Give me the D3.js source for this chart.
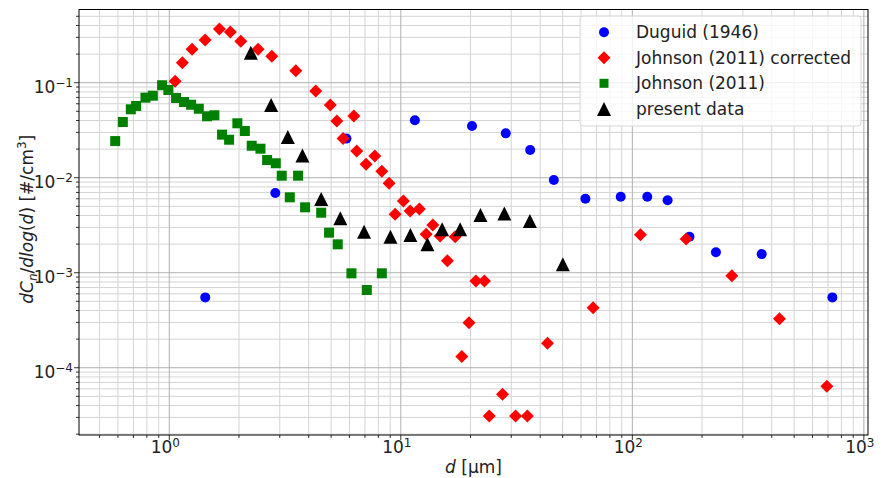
<!DOCTYPE html>
<html><head><meta charset="utf-8">
<script src="https://cdn.jsdelivr.net/npm/d3@7"></script>
<style>body{margin:0;background:#fff} svg{display:block;font-family:"DejaVu Sans",sans-serif}</style>
</head><body><svg id="c" width="885" height="478"></svg>
<script>
// ---- data ----
const duguidD = [1.43, 2.87, 5.82, 11.5, 20.3, 28.4, 36.2, 45.8, 62.7, 89.1, 116, 142, 176.5, 229.6, 362, 731];
const duguidC = [5.5e-4, 6.9e-3, 0.0258, 0.0402, 0.035, 0.0293, 0.0196, 0.00946, 0.0060, 0.0063, 0.0063, 0.00578, 0.00239, 0.00164, 0.00157, 5.5e-4];

const johnsonCorrD = [1.06,1.139,1.254,1.428,1.647,1.836,2.037,2.419,2.772,3.52,4.29,4.96,5.29,6.27,5.63,6.45,7.08,7.72,8.28,8.9,10.26,9.45,10.97,12.03,13.75,12.86,14.78,17.17,15.89,21.1,22.97,19.7,18.34,27.5,24.1,31.3,35.2,43.0,67.7,108.4,170.7,269,432,692];
const johnsonCorrC = [0.1035,0.1625,0.225,0.281,0.367,0.342,0.273,0.225,0.19,0.1336,0.0818,0.0582,0.0395,0.0446,0.0258,0.0191,0.01384,0.0169,0.01167,0.00873,0.00569,0.00412,0.00446,0.00469,0.00318,0.00254,0.00243,0.00239,0.00134,8.18e-4,8.18e-4,2.98e-4,1.31e-4,5.25e-5,3.1e-5,3.1e-5,3.1e-5,1.81e-4,4.28e-4,0.00251,0.00226,9.3e-4,3.28e-4,6.37e-5];

const johnsonD = [0.584,0.630,0.682,0.719,0.789,0.849,0.931,0.991,1.07,1.158,1.242,1.341,1.456,1.566,1.69,1.813,1.968,2.12,2.27,2.476,2.646,2.884,3.06,3.6,3.315,3.86,4.53,4.9,5.34,6.12,7.13,8.28];
const johnsonC = [0.0243,0.0386,0.0525,0.0569,0.0696,0.073,0.094,0.0838,0.069,0.0626,0.0586,0.0532,0.0443,0.0454,0.0284,0.0251,0.0374,0.031,0.0217,0.0202,0.01535,0.0142,0.0105,0.0105,0.00622,0.00488,0.00428,0.00264,0.00199,9.86e-4,6.58e-4,9.86e-4];

const presentD = [2.25,2.753,3.25,3.76,4.53,5.48,6.94,9.02,11.0,13.03,15.08,18.04,22.07,28.0,36.1,50.1];
const presentC = [0.207,0.0582,0.0268,0.0171,0.00597,0.00374,0.0027,0.00239,0.00249,0.00199,0.00287,0.00287,0.00405,0.00421,0.0035,0.00123];

const seriesNames = ["Duguid (1946)", "Johnson (2011) corrected", "Johnson (2011)", "present data"];
const xTickExp = [0, 1, 2, 3];
const yTickExp = [-4, -3, -2, -1];

// ---- layout ----
const L = 79, R = 868, T = 9.5, B = 435;
const FS = 17, FSS = 12;
const x = d3.scaleLog().domain([0.4074, 1042]).range([L, R]);
const y = d3.scaleLog().domain([1.959e-5, 0.5894]).range([B, T]);
const svg = d3.select("#c");

// grid
const g = svg.append("g");
const xMinor = [], xMajor = [];
for (let e = -1; e <= 3; e++) for (let m = 1; m <= 9; m++) {
  const v = m * Math.pow(10, e);
  if (v < x.domain()[0] || v > x.domain()[1]) continue;
  (m === 1 ? xMajor : xMinor).push(v);
}
const yMinor = [], yMajor = [];
for (let e = -5; e <= -1; e++) for (let m = 1; m <= 9; m++) {
  const v = m * Math.pow(10, e);
  if (v < y.domain()[0] || v > y.domain()[1]) continue;
  (m === 1 ? yMajor : yMinor).push(v);
}
g.selectAll(".xm").data(xMinor).enter().append("line")
  .attr("x1", d => x(d)).attr("x2", d => x(d)).attr("y1", T).attr("y2", B)
  .attr("stroke", "#d4d4d4").attr("stroke-width", 1);
g.selectAll(".ym").data(yMinor).enter().append("line")
  .attr("y1", d => y(d)).attr("y2", d => y(d)).attr("x1", L).attr("x2", R)
  .attr("stroke", "#d4d4d4").attr("stroke-width", 1);
g.selectAll(".xM").data(xMajor).enter().append("line")
  .attr("x1", d => x(d)).attr("x2", d => x(d)).attr("y1", T).attr("y2", B)
  .attr("stroke", "#b0b0b0").attr("stroke-width", 1);
g.selectAll(".yM").data(yMajor).enter().append("line")
  .attr("y1", d => y(d)).attr("y2", d => y(d)).attr("x1", L).attr("x2", R)
  .attr("stroke", "#b0b0b0").attr("stroke-width", 1);

// ticks
const tk = svg.append("g").attr("stroke", "#000").attr("stroke-width", 0.8);
xMajor.forEach(v => tk.append("line").attr("x1", x(v)).attr("x2", x(v)).attr("y1", B).attr("y2", B + 5));
xMinor.forEach(v => tk.append("line").attr("x1", x(v)).attr("x2", x(v)).attr("y1", B).attr("y2", B + 3));
yMajor.forEach(v => tk.append("line").attr("y1", y(v)).attr("y2", y(v)).attr("x1", L).attr("x2", L - 5));
yMinor.forEach(v => tk.append("line").attr("y1", y(v)).attr("y2", y(v)).attr("x1", L).attr("x2", L - 3));

// tick labels
xTickExp.forEach(e => {
  const t = svg.append("text").attr("x", x(Math.pow(10, e)) - 4).attr("y", 453)
    .attr("text-anchor", "middle").attr("font-size", FS).attr("fill", "#222");
  t.append("tspan").text("10");
  t.append("tspan").attr("dy", -6).attr("font-size", FSS).text(String(e));
});
yTickExp.forEach(e => {
  const t = svg.append("text").attr("x", 73).attr("y", y(Math.pow(10, e)) + 10)
    .attr("text-anchor", "end").attr("font-size", FS).attr("fill", "#222");
  t.append("tspan").text("10");
  t.append("tspan").attr("dy", -6).attr("font-size", FSS).text("\u2212" + Math.abs(e));
});

// axis labels
const xl = svg.append("text").attr("x", (L + R) / 2).attr("y", 473).attr("text-anchor", "middle")
  .attr("font-size", FS).attr("fill", "#222");
xl.append("tspan").attr("font-style", "italic").text("d");
xl.append("tspan").text(" [\u00b5m]");

const yl = svg.append("text").attr("transform", `translate(33,${(T + B) / 2 - 3}) rotate(-90)`)
  .attr("text-anchor", "middle").attr("font-size", FS).attr("fill", "#222");
yl.append("tspan").attr("font-style", "italic").text("dC");
yl.append("tspan").attr("font-style", "italic").attr("font-size", FSS).attr("dy", 4).text("n");
yl.append("tspan").attr("dy", -4).text("/");
yl.append("tspan").attr("font-style", "italic").text("dlog");
yl.append("tspan").text("(");
yl.append("tspan").attr("font-style", "italic").text("d");
yl.append("tspan").text(") [#/cm");
yl.append("tspan").attr("font-size", FSS).attr("dy", -7).text("3");
yl.append("tspan").attr("dy", 7).text("]");

// markers
const clipId = "plotclip";
svg.append("clipPath").attr("id", clipId).append("rect").attr("x", L).attr("y", T).attr("width", R - L).attr("height", B - T);
const mk = svg.append("g").attr("clip-path", `url(#${clipId})`);

function circle(sel, cx, cy, s) { sel.append("circle").attr("cx", cx).attr("cy", cy).attr("r", s); }
function diamond(sel, cx, cy, s) { sel.append("path").attr("d", `M${cx},${cy - s}L${cx + s},${cy}L${cx},${cy + s}L${cx - s},${cy}Z`); }
function square(sel, cx, cy, s) { sel.append("rect").attr("x", cx - s).attr("y", cy - s).attr("width", 2 * s).attr("height", 2 * s); }
function triangle(sel, cx, cy, s) { sel.append("path").attr("d", `M${cx},${cy - s}L${cx + s},${cy + s}L${cx - s},${cy + s}Z`); }

const series = [
  { d: duguidD, c: duguidC, color: "#0000ff", shape: circle, size: 5 },
  { d: johnsonCorrD, c: johnsonCorrC, color: "#ff0000", shape: diamond, size: 6.5 },
  { d: johnsonD, c: johnsonC, color: "#008000", shape: square, size: 5 },
  { d: presentD, c: presentC, color: "#000000", shape: triangle, size: 7 }
];
series.forEach(s => {
  const grp = mk.append("g").attr("fill", s.color);
  s.d.forEach((dv, i) => s.shape(grp, x(dv), y(s.c[i]), s.size));
});

// frame
svg.append("rect").attr("x", L).attr("y", T).attr("width", R - L).attr("height", B - T)
  .attr("fill", "none").attr("stroke", "#000").attr("stroke-width", 1);

// legend
const lg = svg.append("g");
lg.append("rect").attr("x", 580).attr("y", 16).attr("width", 281).attr("height", 110).attr("rx", 3)
  .attr("fill", "#fff").attr("fill-opacity", 0.8).attr("stroke", "#d6d6d6").attr("stroke-width", 1);
const rowY = [32.3, 57.7, 83.3, 109];
series.forEach((s, i) => {
  const grp = lg.append("g").attr("fill", s.color);
  s.shape(grp, 604, rowY[i], s === series[2] ? 4.5 : s.size);
  lg.append("text").attr("x", 636).attr("y", rowY[i]).attr("dy", "0.35em")
    .attr("font-size", FS).attr("fill", "#222").text(seriesNames[i]);
});
</script></body></html>
